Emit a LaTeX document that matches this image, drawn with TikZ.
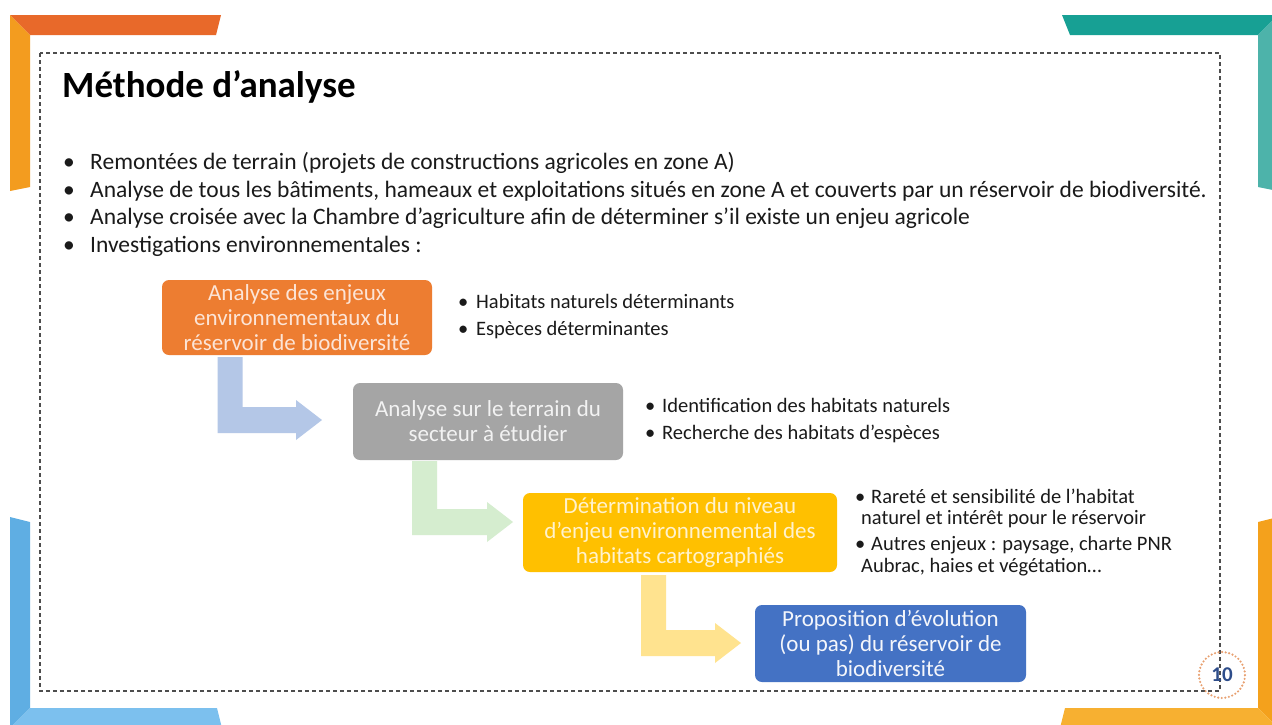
\documentclass[tikz,border=0pt]{standalone}
\usepackage{fontspec}
\setmainfont{Carlito}
\usetikzlibrary{calc}
\definecolor{orTop}{HTML}{E8692A}
\definecolor{orLeft}{HTML}{F39C1F}
\definecolor{tealTop}{HTML}{17A094}
\definecolor{tealRight}{HTML}{4DB3AA}
\definecolor{blLeft}{HTML}{5FAEE3}
\definecolor{blBottom}{HTML}{7CC0EE}
\definecolor{yeRight}{HTML}{F4A11C}
\definecolor{yeBottom}{HTML}{F7B031}
\definecolor{boxA}{HTML}{ED7D31}
\definecolor{boxB}{HTML}{A5A5A5}
\definecolor{boxC}{HTML}{FFC000}
\definecolor{boxD}{HTML}{4472C4}
\definecolor{txtA}{HTML}{FCE4D6}
\definecolor{txtB}{HTML}{F2F2F2}
\definecolor{txtC}{HTML}{FFF2CC}
\definecolor{txtD}{HTML}{F4F6FB}
\definecolor{arrA}{HTML}{B4C7E7}
\definecolor{arrB}{HTML}{D5EDCF}
\definecolor{arrC}{HTML}{FFE38F}
\definecolor{frameC}{HTML}{4D4D4D}
\definecolor{bodyC}{HTML}{1A1A1A}
\definecolor{pnRing}{HTML}{E8A070}
\definecolor{pnText}{HTML}{2E4D8A}
\newcommand{\bentarrow}[3]{%
  \fill[#1] let \p1=(#2), \p2=(#3) in
    (\x1-12.5pt,\y1) -- (\x1+12.5pt,\y1) -- (\x1+12.5pt,\y2+13pt)
    -- (\x2-26pt,\y2+13pt) -- (\x2-26pt,\y2+20pt) -- (\x2,\y2)
    -- (\x2-26pt,\y2-20pt) -- (\x2-26pt,\y2-13pt) -- (\x1-12.5pt,\y2-13pt) -- cycle;}
\begin{document}
\begin{tikzpicture}[x=1pt,y=-1pt,
  box/.style={rounded corners=7pt, align=center, inner sep=0pt,
    font=\fontsize{23}{25}\selectfont},
  body/.style={anchor=base west, inner sep=0pt, text=bodyC,
    font=\fontsize{23.5}{27}\selectfont},
  side/.style={anchor=base west, inner sep=0pt, text=bodyC,
    font=\fontsize{20.5}{24}\selectfont}]
\useasboundingbox (0,0) rectangle (1272,724);
\fill[white] (0,0) rectangle (1272,724);
\begin{scope}
\clip (0,0) rectangle (1272,724);
% corner bars
\fill[orTop] (10,15) -- (221,15) -- (216,35) -- (30,35) -- cycle;
\fill[orLeft] (10,15) -- (30,35) -- (30,187) -- (10,191) -- cycle;
\fill[tealTop] (1062,15) -- (1278,15) -- (1258,35) -- (1070,35) -- cycle;
\fill[tealRight] (1278,15) -- (1278,191) -- (1258,187) -- (1258,35) -- cycle;
\fill[blLeft] (10,517) -- (30,522) -- (30,708) -- (10,728) -- cycle;
\fill[blBottom] (10,728) -- (30,708) -- (217,708) -- (222,728) -- cycle;
\fill[yeRight] (1258,522) -- (1278,517) -- (1278,728) -- (1258,708) -- cycle;
\fill[yeBottom] (1065,708) -- (1258,708) -- (1278,728) -- (1060,728) -- cycle;
\end{scope}
% dashed frame
\draw[frameC, line width=1.1pt, dash pattern=on 4pt off 3pt] (40,53) rectangle (1220,691);
% title
\node[anchor=base west, inner sep=0pt, text=black, font=\bfseries\fontsize{37}{42}\selectfont] (title) at (62,97) {Méthode d’analyse};
% main bullets
\node[body] (m1b) at (63,169) {•};
\node[body] (m1) at (90,169) {Remontées de terrain (projets de constructions agricoles en zone A)};
\node[body] (m2b) at (63,197) {•};
\node[body] (m2) at (90,197) {Analyse de tous les bâtiments, hameaux et exploitations situés en zone A et couverts par un réservoir de biodiversité.};
\node[body] (m3b) at (63,224.5) {•};
\node[body] (m3) at (90,224.5) {Analyse croisée avec la Chambre d’agriculture afin de déterminer s’il existe un enjeu agricole};
\node[body] (m4b) at (63,252) {•};
\node[body] (m4) at (90,252) {Investigations environnementales :};
% bent arrows
\coordinate (a1top) at (230,357);
\coordinate (a1tip) at (322,420);
\coordinate (a2top) at (424.5,461);
\coordinate (a2tip) at (513,522);
\coordinate (a3top) at (653.5,575);
\coordinate (a3tip) at (741,643);
\bentarrow{arrA}{a1top}{a1tip}
\bentarrow{arrB}{a2top}{a2tip}
\bentarrow{arrC}{a3top}{a3tip}
% boxes
\node[box, fill=boxA, text=txtA, minimum width=270pt, minimum height=75pt] (b1) at (297,317.5)
  {Analyse des enjeux\\environnementaux du\\réservoir de biodiversité};
\node[box, fill=boxB, text=txtB, minimum width=270pt, minimum height=77pt] (b2) at (488,421.5)
  {Analyse sur le terrain du\\secteur à étudier};
\node[box, fill=boxC, text=txtC, minimum width=314pt, minimum height=79pt] (b3) at (680,532.5)
  {Détermination du niveau\\d’enjeu environnemental des\\habitats cartographiés};
\node[box, fill=boxD, text=txtD, minimum width=271pt, minimum height=77pt] (b4) at (890.5,643.5)
  {Proposition d’évolution\\(ou pas) du réservoir de\\biodiversité};
% side bullets
\node[side] (s1b) at (458,308) {•};
\node[side] (s1) at (476,308) {Habitats naturels déterminants};
\node[side] (s2b) at (458,335) {•};
\node[side] (s2) at (476,335) {Espèces déterminantes};
\node[side] (s3b) at (645,412) {•};
\node[side] (s3) at (662,412) {Identification des habitats naturels};
\node[side] (s4b) at (645,439) {•};
\node[side] (s4) at (662,439) {Recherche des habitats d’espèces};
\node[side] (s5b) at (855,503) {•};
\node[side] (s5) at (871,503) {Rareté et sensibilité de l’habitat};
\node[side] (s5c) at (861,524) {naturel et intérêt pour le réservoir};
\node[side] (s6b) at (855,550) {•};
\node[side] (s6) at (871,550) {Autres enjeux : paysage, charte PNR};
\node[side] (s6c) at (861,572) {Aubrac, haies et végétation…};
% page number
\node[circle, draw=pnRing, line width=2.4pt, dash pattern=on 0pt off 3.6pt, line cap=round,
  minimum size=46pt, inner sep=0pt, text=pnText, font=\bfseries\fontsize{21}{21}\selectfont] (pg) at (1222,675) {10};
\end{tikzpicture}
\end{document}
